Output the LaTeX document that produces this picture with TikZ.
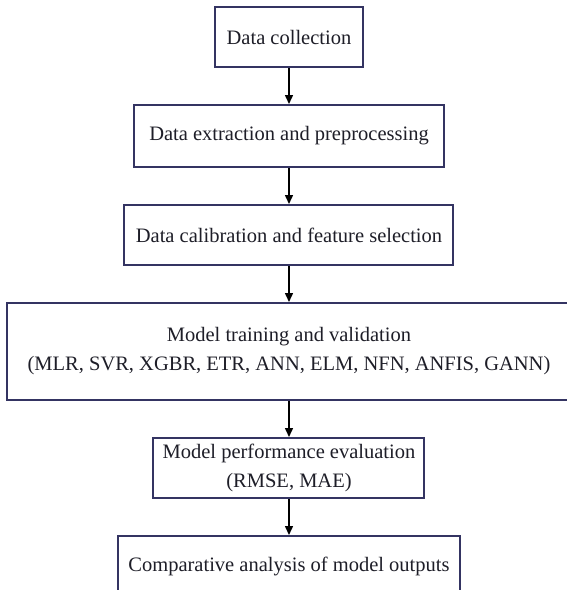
\documentclass[tikz,border=0pt]{standalone}
\usepackage{fontspec}
\setmainfont{Liberation Serif}
\usetikzlibrary{positioning,arrows.meta}
\definecolor{FlowFrame}{RGB}{52,52,98}
\definecolor{FlowText}{RGB}{30,30,40}

\begin{document}
\begin{tikzpicture}[node distance=36pt, every node/.style={font=\fontsize{20.5}{29}\selectfont,align=center,text=FlowText}, box/.style={draw=FlowFrame,line width=2pt,fill=white,inner sep=0pt,minimum height=60pt}, arrow/.style={-{Triangle[length=9pt,width=8pt]},line width=1.5pt,draw=black}]
\useasboundingbox (-289pt,37pt) rectangle (278pt,-553pt);
\node[box,minimum width=148pt] (collect) {Data collection};
\node[box,below=of collect,minimum width=310pt,minimum height=62pt] (extract) {Data extraction and preprocessing};
\node[box,below=of extract,minimum width=329pt] (calib) {Data calibration and feature selection};
\node[box,below=of calib,minimum width=563pt,minimum height=97pt] (train) {Model training and validation\\(MLR, SVR, XGBR, ETR, ANN, ELM, NFN, ANFIS, GANN)};
\node[box,below=of train,minimum width=271pt] (eval) {Model performance evaluation\\(RMSE, MAE)};
\node[box,below=of eval,minimum width=342pt] (compare) {Comparative analysis of model outputs};
\draw[arrow] (collect) -- (extract);
\draw[arrow] (extract) -- (calib);
\draw[arrow] (calib) -- (train);
\draw[arrow] (train) -- (eval);
\draw[arrow] (eval) -- (compare);
\end{tikzpicture}
\end{document}
